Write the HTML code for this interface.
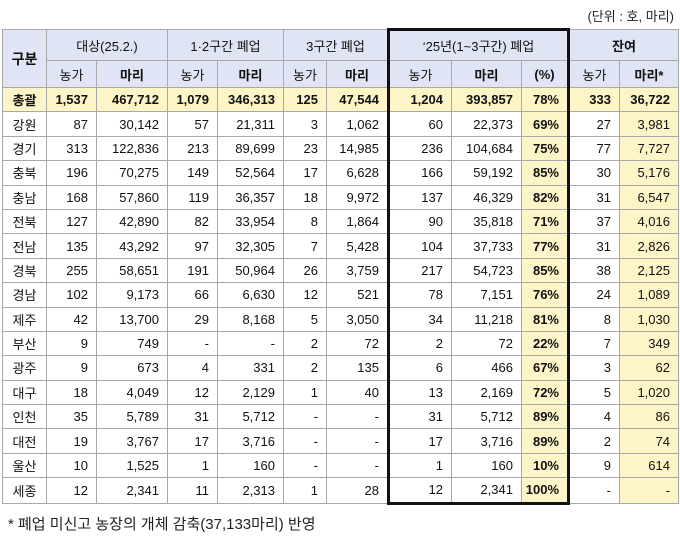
<!DOCTYPE html>
<html><head><meta charset="utf-8"><style>
body{margin:0;width:680px;height:547px;background:#fff;position:relative;overflow:hidden;font-family:"Liberation Sans","Noto Sans CJK KR",sans-serif;color:#111}
.unit{position:absolute;right:6px;top:6px;font-size:13px;color:#222}
table{position:absolute;left:2px;top:28px;border-collapse:collapse;table-layout:fixed;font-size:13px}
td{border:1px solid #a8a8a8;padding:0 8px 0 0;text-align:right;height:23.4px;white-space:nowrap;overflow:hidden}
tr.h td{background:#dfe5f5;text-align:center;padding:0}
tr.h1 td{height:29px}
tr.h2 td{height:26px}
td.n{text-align:center;padding:0}
tr.t td{background:#fdf4c8;font-weight:bold}
td.p{background:#fdf4c8;font-weight:bold}
td.y{background:#fdf4c8}
td.bl{border-left:3px solid #111}
td.br{border-right:3px solid #111}
td.bt{border-top:3px solid #111}
td.bb{border-bottom:3px solid #111}
b{font-weight:bold}
.foot{position:absolute;left:8px;top:513px;font-size:15px;color:#222}
</style></head><body>
<div class="unit">(단위 : 호, 마리)</div>
<table>
<colgroup><col style="width:44px"><col style="width:50px"><col style="width:71px"><col style="width:50px"><col style="width:66px"><col style="width:43px"><col style="width:62px"><col style="width:63px"><col style="width:70px"><col style="width:47px"><col style="width:51px"><col style="width:59px"></colgroup>
<tr class="h h1"><td rowspan="2" style="font-weight:bold;font-size:14px">구분</td><td colspan="2">대상(25.2.)</td><td colspan="2">1·2구간 폐업</td><td colspan="2">3구간 폐업</td><td colspan="3" class="bl br bt">‘25년(1~3구간) 폐업</td><td colspan="2"><b>잔여</b></td></tr>
<tr class="h h2"><td>농가</td><td><b>마리</b></td><td>농가</td><td><b>마리</b></td><td>농가</td><td><b>마리</b></td><td class="bl">농가</td><td><b>마리</b></td><td class="br"><b>(%)</b></td><td>농가</td><td><b>마리*</b></td></tr>
<tr class="t"><td class="n">총괄</td><td>1,537</td><td>467,712</td><td>1,079</td><td>346,313</td><td>125</td><td>47,544</td><td class="bl">1,204</td><td>393,857</td><td class="br">78%</td><td>333</td><td>36,722</td></tr>
<tr><td class="n">강원</td><td>87</td><td>30,142</td><td>57</td><td>21,311</td><td>3</td><td>1,062</td><td class="bl">60</td><td>22,373</td><td class="p br">69%</td><td>27</td><td class="y">3,981</td></tr>
<tr><td class="n">경기</td><td>313</td><td>122,836</td><td>213</td><td>89,699</td><td>23</td><td>14,985</td><td class="bl">236</td><td>104,684</td><td class="p br">75%</td><td>77</td><td class="y">7,727</td></tr>
<tr><td class="n">충북</td><td>196</td><td>70,275</td><td>149</td><td>52,564</td><td>17</td><td>6,628</td><td class="bl">166</td><td>59,192</td><td class="p br">85%</td><td>30</td><td class="y">5,176</td></tr>
<tr><td class="n">충남</td><td>168</td><td>57,860</td><td>119</td><td>36,357</td><td>18</td><td>9,972</td><td class="bl">137</td><td>46,329</td><td class="p br">82%</td><td>31</td><td class="y">6,547</td></tr>
<tr><td class="n">전북</td><td>127</td><td>42,890</td><td>82</td><td>33,954</td><td>8</td><td>1,864</td><td class="bl">90</td><td>35,818</td><td class="p br">71%</td><td>37</td><td class="y">4,016</td></tr>
<tr><td class="n">전남</td><td>135</td><td>43,292</td><td>97</td><td>32,305</td><td>7</td><td>5,428</td><td class="bl">104</td><td>37,733</td><td class="p br">77%</td><td>31</td><td class="y">2,826</td></tr>
<tr><td class="n">경북</td><td>255</td><td>58,651</td><td>191</td><td>50,964</td><td>26</td><td>3,759</td><td class="bl">217</td><td>54,723</td><td class="p br">85%</td><td>38</td><td class="y">2,125</td></tr>
<tr><td class="n">경남</td><td>102</td><td>9,173</td><td>66</td><td>6,630</td><td>12</td><td>521</td><td class="bl">78</td><td>7,151</td><td class="p br">76%</td><td>24</td><td class="y">1,089</td></tr>
<tr><td class="n">제주</td><td>42</td><td>13,700</td><td>29</td><td>8,168</td><td>5</td><td>3,050</td><td class="bl">34</td><td>11,218</td><td class="p br">81%</td><td>8</td><td class="y">1,030</td></tr>
<tr><td class="n">부산</td><td>9</td><td>749</td><td>-</td><td>-</td><td>2</td><td>72</td><td class="bl">2</td><td>72</td><td class="p br">22%</td><td>7</td><td class="y">349</td></tr>
<tr><td class="n">광주</td><td>9</td><td>673</td><td>4</td><td>331</td><td>2</td><td>135</td><td class="bl">6</td><td>466</td><td class="p br">67%</td><td>3</td><td class="y">62</td></tr>
<tr><td class="n">대구</td><td>18</td><td>4,049</td><td>12</td><td>2,129</td><td>1</td><td>40</td><td class="bl">13</td><td>2,169</td><td class="p br">72%</td><td>5</td><td class="y">1,020</td></tr>
<tr><td class="n">인천</td><td>35</td><td>5,789</td><td>31</td><td>5,712</td><td>-</td><td>-</td><td class="bl">31</td><td>5,712</td><td class="p br">89%</td><td>4</td><td class="y">86</td></tr>
<tr><td class="n">대전</td><td>19</td><td>3,767</td><td>17</td><td>3,716</td><td>-</td><td>-</td><td class="bl">17</td><td>3,716</td><td class="p br">89%</td><td>2</td><td class="y">74</td></tr>
<tr><td class="n">울산</td><td>10</td><td>1,525</td><td>1</td><td>160</td><td>-</td><td>-</td><td class="bl">1</td><td>160</td><td class="p br">10%</td><td>9</td><td class="y">614</td></tr>
<tr><td class="n">세종</td><td>12</td><td>2,341</td><td>11</td><td>2,313</td><td>1</td><td>28</td><td class="bl bb">12</td><td class="bb">2,341</td><td class="p br bb">100%</td><td>-</td><td class="y">-</td></tr>
</table>
<div class="foot">* 폐업 미신고 농장의 개체 감축(37,133마리) 반영</div>
</body></html>
